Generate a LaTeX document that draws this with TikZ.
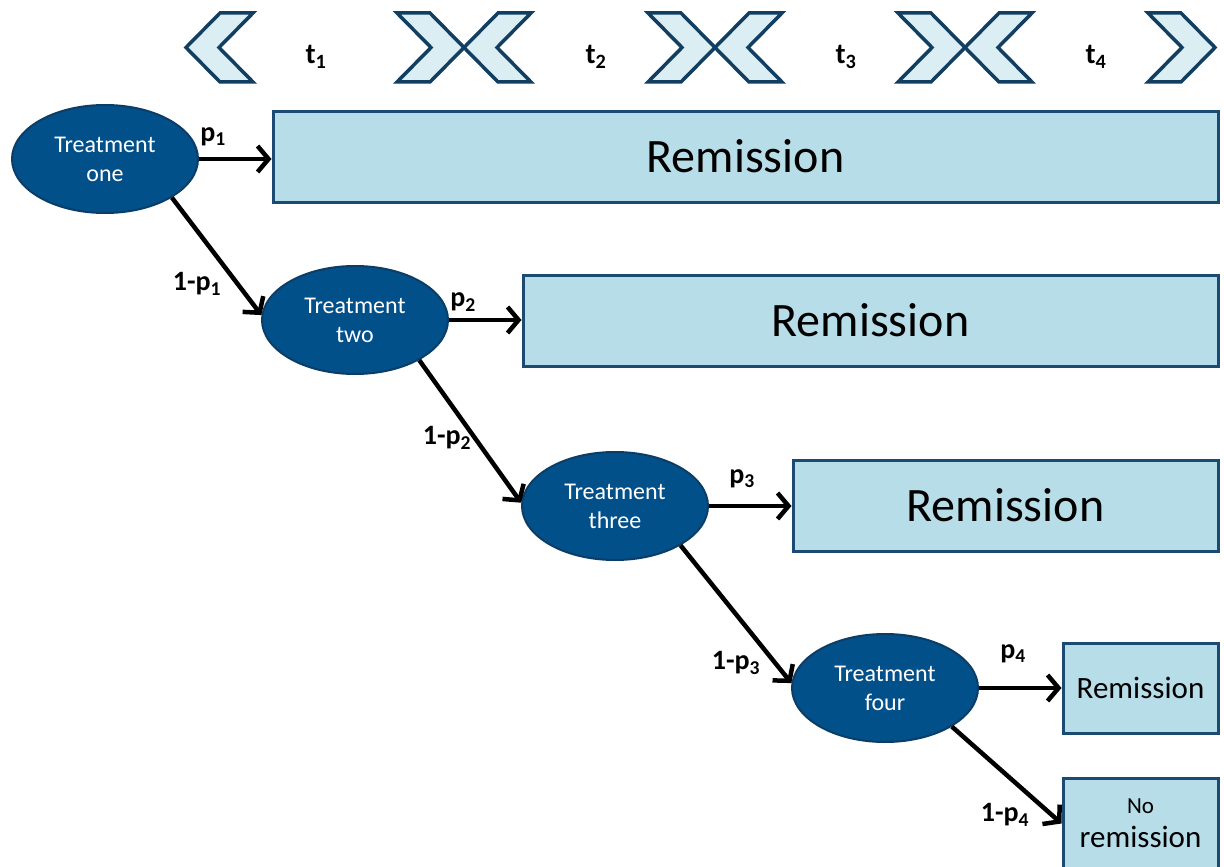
\documentclass[tikz,border=0pt]{standalone}
\usepackage{fontspec}
\setmainfont{Carlito}
\usetikzlibrary{shapes.geometric,arrows.meta}
\definecolor{ellfill}{HTML}{02508A}
\definecolor{ellline}{HTML}{0B3D66}
\definecolor{boxfill}{HTML}{B7DDE8}
\definecolor{boxline}{HTML}{1B4A72}
\definecolor{chevfill}{HTML}{DAEEF3}
\definecolor{chevline}{HTML}{123E62}
\newcommand\chevRight[1]{\draw[chev] (#1,13) -- ++(33,0) -- ++(34,34.5) -- ++(-34,34.5) -- ++(-33,0) -- ++(34,-34.5) -- cycle;}
\newcommand\chevLeft[1]{\draw[chev] (#1,47.5) -- ++(34,-34.5) -- ++(33,0) -- ++(-34,34.5) -- ++(34,34.5) -- ++(-33,0) -- cycle;}
\begin{document}
\begin{tikzpicture}[x=1pt,y=-1pt,
 treat/.style={ellipse, draw=ellline, fill=ellfill, line width=2pt, minimum width=186pt, minimum height=108pt, inner sep=0pt, text=white, font=\fontsize{24}{29}\selectfont, align=center},
 rem/.style={draw=boxline, fill=boxfill, line width=3pt, inner sep=0pt, font=\fontsize{48}{52}\selectfont},
 conn/.style={line width=4.5pt, -{Straight Barb[length=11pt,width=26pt]}},
 lab/.style={font=\bfseries\fontsize{28}{30}\selectfont, inner sep=0pt},
 tlab/.style={font=\bfseries\fontsize{29}{32}\selectfont, inner sep=0pt},
 chev/.style={draw=chevline, fill=chevfill, line width=3.5pt, line join=miter}
]
\useasboundingbox (0,0) rectangle (1224,867);
% timeline chevrons
\chevLeft{186}
\chevRight{397}\chevLeft{464}
\chevRight{648}\chevLeft{715}
\chevRight{898}\chevLeft{965}
\chevRight{1148}
\node[tlab] (t1) at (316,57) {t\textsubscript{1}};
\node[tlab] (t2) at (596,57) {t\textsubscript{2}};
\node[tlab] (t3) at (846,57) {t\textsubscript{3}};
\node[tlab] (t4) at (1096,57) {t\textsubscript{4}};
% treatments
\node[treat] (T1) at (105,159) {Treatment\\one};
\node[treat] (T2) at (355,320) {Treatment\\two};
\node[treat] (T3) at (615,506) {Treatment\\three};
\node[treat] (T4) at (885,688) {Treatment\\four};
% outcome boxes
\node[rem, minimum width=945pt, minimum height=91pt] (R1) at (745.5,156.5) {Remission};
\node[rem, minimum width=695pt, minimum height=91pt] (R2) at (870.5,320.5) {Remission};
\node[rem, minimum width=425pt, minimum height=91pt] (R3) at (1005.5,505.5) {Remission};
\node[rem, minimum width=155pt, minimum height=90pt, font=\fontsize{31}{34}\selectfont] (R4) at (1140.5,688) {Remission};
\node[rem, minimum width=155pt, minimum height=91pt, align=center, font=\fontsize{31}{34}\selectfont] (R5) at (1140.5,823.5) {{\fontsize{23}{23}\selectfont No}\\remission};
% connectors
\draw[conn] (T1.east) -- (T1.east -| R1.west);
\draw[conn] (T2.east) -- (T2.east -| R2.west);
\draw[conn] (T3.east) -- (T3.east -| R3.west);
\draw[conn] (T4.east) -- (T4.east -| R4.west);
\draw[conn] (T1.-30) -- (T2.177);
\draw[conn] (T2.-32) -- (T3.178);
\draw[conn] (T3.-31) -- (T4.177);
\draw[conn] (T4.-30) -- (R5.west);
% labels
\node[lab] (l1) at (213,137) {p\textsubscript{1}};
\node[lab] (l2) at (463,302) {p\textsubscript{2}};
\node[lab] (l3) at (742,479) {p\textsubscript{3}};
\node[lab] (l4) at (1013,654) {p\textsubscript{4}};
\node[lab] (m1) at (197,284) {1-p\textsubscript{1}};
\node[lab] (m2) at (447,438) {1-p\textsubscript{2}};
\node[lab] (m3) at (736,663) {1-p\textsubscript{3}};
\node[lab] (m4) at (1005,815) {1-p\textsubscript{4}};
\end{tikzpicture}
\end{document}
